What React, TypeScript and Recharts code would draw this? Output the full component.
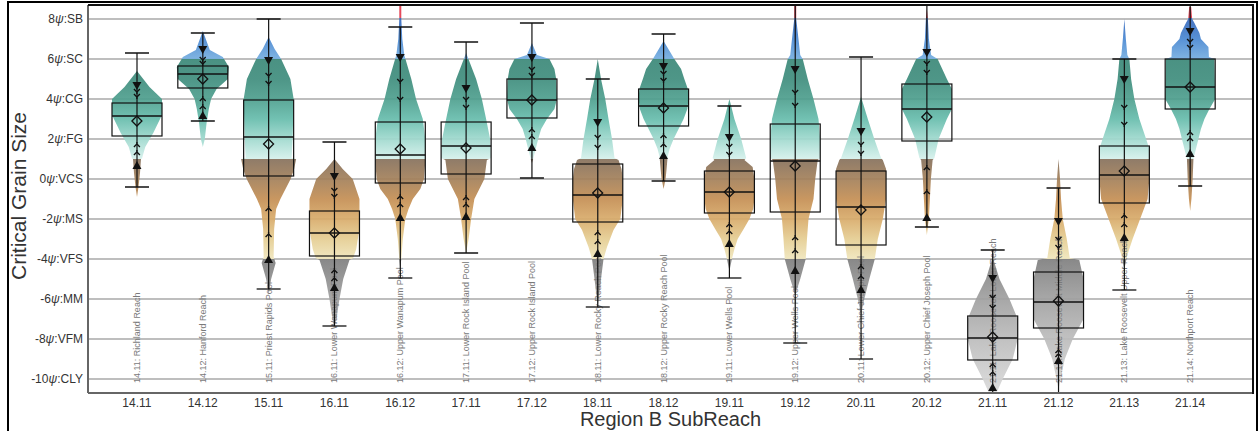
import React from "react";
import { ComposedChart, Bar, Scatter, XAxis, YAxis, CartesianGrid } from "recharts";

const codes = ["14.11", "14.12", "15.11", "16.11", "16.12", "17.11", "17.12", "18.11", "18.12", "19.11", "19.12", "20.11", "20.12", "21.11", "21.12", "21.13", "21.14"];
const reachNames = [
  "Richland Reach", "Hanford Reach", "Priest Rapids Pool", "Lower Wanapum Pool", "Upper Wanapum Pool",
  "Lower Rock Island Pool", "Upper Rock Island Pool", "Lower Rocky Reach Pool", "Upper Rocky Reach Pool",
  "Lower Wells Pool", "Upper Wells Pool", "Lower Chief Joseph Pool", "Upper Chief Joseph Pool",
  "Lake Roosevelt Lower Reach", "Lake Roosevelt Middle Reach", "Lake Roosevelt Upper Reach", "Northport Reach",
];

// box plot stats (phi units)
const q3s = [3.8, 5.65, 3.95, -1.6, 2.85, 2.85, 5.0, 0.75, 4.5, 0.4, 2.75, 0.4, 4.75, -6.85, -4.65, 1.65, 6.0];
const medians = [3.15, 5.25, 2.1, -2.7, 1.2, 1.65, 3.95, -0.8, 3.65, -0.65, 0.9, -1.4, 3.5, -7.95, -6.15, 0.2, 4.6];
const q1s = [2.15, 4.55, 0.15, -3.85, -0.2, 0.25, 3.05, -2.15, 2.65, -1.7, -1.65, -3.3, 1.9, -9.05, -7.45, -1.2, 3.5];
const whiskerHigh = [6.3, 7.3, 8.0, 1.85, 7.6, 6.85, 7.8, 5.0, 7.25, 3.65, 9.2, 6.1, 9.2, -3.55, -0.45, 6.0, 9.2];
const whiskerLow = [-0.4, 2.9, -5.5, -7.35, -4.95, -3.7, 0.05, -6.4, -0.1, -4.95, -8.2, -9.0, -2.4, -11, -11, -5.55, -0.35];
const means = [2.9, 5.0, 1.75, -2.7, 1.5, 1.55, 3.95, -0.7, 3.55, -0.65, 0.65, -1.55, 3.1, -7.9, -6.1, 0.4, 4.6];

// percentile markers
const upperTriangle = [4.65, 6.45, 5.9, 0.1, 6.05, 4.5, 6.05, 2.8, 5.6, 2.05, 5.45, 2.35, 6.3, -5.0, -2.15, 4.95, 7.35];
const upperTickA = [4.4, 6.0, 5.2, -0.55, 4.9, 4.0, 5.5, 2.1, 5.3, 1.65, 4.35, 1.75, 5.8, -5.9, -3.0, 3.6, 6.9];
const upperTickB = [4.15, 5.8, 4.8, -0.85, 4.0, 3.6, 5.2, 1.6, 4.95, 1.25, 3.7, 1.3, 5.35, -6.4, -3.4, 2.75, 6.6];
const lowerTickA = [1.7, 4.0, -1.5, -4.6, -0.9, -0.95, 2.45, -2.7, 2.15, -2.3, -2.95, -4.4, 0.55, -9.3, -8.6, -1.85, 2.3];
const lowerTickB = [1.3, 3.6, -2.8, -5.0, -1.3, -1.3, 2.1, -3.15, 1.7, -2.65, -3.6, -4.9, -0.65, -9.7, -8.8, -2.3, 2.0];
const lowerTriangle = [0.7, 3.2, -4.0, -5.4, -1.9, -1.85, 1.6, -3.7, 1.2, -3.2, -4.55, -5.5, -1.9, -10.4, -9.05, -2.9, 1.3];

// violin outlines: [phi, relative half width]
const violins: [number, number][][] = [
  [[5.4, 0], [4.6, 0.5], [4.0, 1.0], [3.2, 1.0], [2.3, 0.65], [1.6, 0.33], [1.02, 0.2], [1.0, 0.16], [0.3, 0.12], [-0.4, 0.06], [-0.9, 0]],
  [[7.4, 0], [6.45, 0.28], [6.1, 0.8], [5.6, 1.04], [5.0, 1.0], [4.5, 0.55], [4.0, 0.33], [3.5, 0.24], [2.8, 0.15], [2.0, 0.08], [1.6, 0]],
  [[7.1, 0], [6.5, 0.24], [6.0, 0.5], [5.0, 0.87], [4.0, 1.0], [2.0, 0.96], [1.05, 0.92], [1.0, 1.1], [0.5, 1.02], [0, 0.88], [-1, 0.47], [-1.5, 0.3], [-2.5, 0.22], [-3.9, 0.2], [-4.2, 0.28], [-5.0, 0.1], [-5.8, 0]],
  [[1.0, 0], [0.5, 0.33], [0, 0.73], [-1, 1.0], [-2.5, 1.0], [-3.5, 0.87], [-3.95, 0.75], [-4.05, 0.6], [-5, 0.35], [-6, 0.2], [-7, 0.08], [-7.4, 0]],
  [[8.7, 0.04], [8, 0.04], [7, 0.08], [6.2, 0.16], [5, 0.44], [4, 0.63], [3, 0.9], [2, 1.0], [0.9, 1.0], [0, 0.95], [-0.5, 0.8], [-1, 0.5], [-1.5, 0.33], [-2, 0.2], [-3, 0.1], [-4, 0.04], [-4.5, 0]],
  [[6.3, 0], [5, 0.4], [4, 0.63], [3, 0.8], [2, 0.96], [1.05, 1.0], [0.95, 0.83], [0, 0.73], [-0.5, 0.53], [-1, 0.33], [-2, 0.2], [-3, 0.1], [-3.7, 0]],
  [[6.8, 0], [6.2, 0.2], [6.0, 0.7], [5.5, 0.9], [5.0, 0.97], [4.0, 1.0], [3.5, 0.9], [3, 0.6], [2.5, 0.37], [2, 0.25], [1.5, 0.15], [1.0, 0.05], [0.8, 0]],
  [[6.0, 0], [5, 0.13], [4, 0.3], [3, 0.43], [2, 0.57], [1.05, 0.67], [0.95, 0.83], [0.5, 0.95], [0, 1.0], [-1, 1.0], [-2, 0.9], [-2.55, 0.63], [-3.4, 0.37], [-4, 0.23], [-5, 0.13], [-6, 0.04], [-6.3, 0]],
  [[6.9, 0], [6, 0.43], [5.5, 0.7], [5, 0.83], [4.5, 0.97], [4, 1.0], [3.5, 0.95], [3, 0.8], [2.5, 0.6], [2, 0.4], [1.5, 0.24], [1.1, 0.16], [0.5, 0.12], [0, 0.08], [-0.5, 0]],
  [[4.0, 0], [3, 0.2], [2, 0.47], [1.05, 0.67], [0.95, 0.6], [0.6, 0.93], [0, 1.0], [-1, 1.0], [-1.5, 0.95], [-2, 0.8], [-2.5, 0.57], [-3, 0.33], [-3.5, 0.2], [-4, 0.1], [-4.6, 0]],
  [[8.7, 0.04], [8, 0.04], [7, 0.13], [6.2, 0.2], [6, 0.3], [5, 0.5], [4, 0.73], [3, 0.93], [2, 1.0], [1.05, 1.0], [0.95, 0.9], [0, 0.8], [-1, 0.73], [-2, 0.53], [-3, 0.47], [-4, 0.42], [-5, 0.2], [-5.8, 0]],
  [[4.1, 0], [3, 0.27], [2, 0.53], [1.05, 0.8], [0.95, 0.87], [0.5, 1.0], [-1, 1.0], [-2, 0.87], [-3, 0.67], [-4, 0.55], [-5, 0.33], [-6, 0.13], [-6.8, 0]],
  [[8.5, 0], [8, 0.04], [7, 0.08], [6.2, 0.17], [6, 0.43], [5, 0.8], [4.5, 1.0], [3.5, 1.0], [3, 0.8], [2, 0.47], [1.05, 0.3], [0.95, 0.23], [0, 0.16], [-1, 0.12], [-2, 0.08], [-2.8, 0]],
  [[-3.9, 0], [-5, 0.27], [-6, 0.67], [-7, 1.0], [-8, 1.0], [-9, 0.8], [-10, 0.4], [-10.7, 0.15]],
  [[1.0, 0], [0, 0.06], [-1, 0.1], [-2, 0.17], [-3, 0.33], [-3.95, 0.45], [-4.05, 0.83], [-5, 1.0], [-7, 1.0], [-8, 0.57], [-9, 0.25], [-10, 0.08], [-10.5, 0]],
  [[8.0, 0], [7, 0.06], [6.2, 0.12], [6, 0.2], [5, 0.27], [4, 0.4], [3, 0.6], [2, 0.87], [1.5, 1.0], [0, 1.0], [-1, 0.93], [-2, 0.63], [-3, 0.33], [-3.8, 0.12], [-4.5, 0]],
  [[8.6, 0.04], [8.0, 0.08], [7.8, 0.17], [7.3, 0.37], [7.0, 0.43], [6.6, 0.73], [6.1, 0.75], [6.0, 0.97], [4, 1.0], [3.5, 0.77], [3, 0.57], [2.5, 0.43], [2, 0.33], [1.2, 0.17], [1, 0.13], [0, 0.1], [-1, 0.05], [-1.6, 0]],
];

const yTicks = [-10, -8, -6, -4, -2, 0, 2, 4, 6, 8];
const yTickClasses = ["CLY", "VFM", "MM", "VFS", "MS", "VCS", "FG", "CG", "SC", "SB"];

const Y_MIN = -10.7;
const Y_MAX = 8.7;

// grain-size colour ramp, by phi value
const colorRamp: [number, string][] = [
  [8.7, "#e23a4c"], [8.05, "#e23a4c"], [8.05, "#3366bb"], [7, "#4a88d2"], [6.02, "#74addf"],
  [6.02, "#3b8878"], [5, "#3f8d7d"], [4, "#4e9f8e"], [3, "#66bcac"], [2, "#9fd9ce"], [1.02, "#d4f0eb"],
  [1.02, "#85705c"], [0, "#a3805a"], [-1, "#c48e53"], [-2, "#d8ab6a"], [-3, "#e5cd92"], [-3.98, "#efe5bb"],
  [-3.98, "#7e7e7e"], [-6, "#a0a0a0"], [-8, "#bcbcbc"], [Y_MIN, "#dadada"],
];

const data = codes.map((code, i) => {
  const vals = violins[i].map((p) => p[0]);
  return {
    code,
    name: reachNames[i],
    range: [Math.max(Math.min(...vals), Y_MIN), Math.min(Math.max(...vals), Y_MAX)],
    q1: q1s[i],
    median: medians[i],
    q3: q3s[i],
    wlo: whiskerLow[i],
    whi: whiskerHigh[i],
    mean: means[i],
    upperTriangle: upperTriangle[i],
    upperTickA: upperTickA[i],
    upperTickB: upperTickB[i],
    lowerTickA: lowerTickA[i],
    lowerTickB: lowerTickB[i],
    lowerTriangle: lowerTriangle[i],
    profile: violins[i],
  };
});

function ViolinBox(props: any) {
  const { x, y, width, height, payload, index } = props;
  const [v0, v1] = payload.range;
  const py = (v: number) => y + ((v1 - v) / (v1 - v0)) * height;
  const cx = x + width / 2;
  const half = width / 2;
  const prof: [number, number][] = payload.profile;
  const right = prof.map(([v, w]) => `${cx + w * half},${py(v)}`);
  const left = prof.slice().reverse().map(([v, w]) => `${cx - w * half},${py(v)}`);
  const gid = `grain-${index}`;
  const span = Y_MAX - Y_MIN;
  const capHalf = 12;
  const labelY = py(-10.2);
  return (
    <g>
      <defs>
        <linearGradient id={gid} gradientUnits="userSpaceOnUse" x1={0} x2={0} y1={py(Y_MAX)} y2={py(Y_MIN)}>
          {colorRamp.map(([v, c], k) => (
            <stop key={k} offset={(Y_MAX - v) / span} stopColor={c} />
          ))}
        </linearGradient>
      </defs>
      <polygon points={[...right, ...left].join(" ")} fill={`url(#${gid})`} fillOpacity={0.92} />
      <text
        x={cx}
        y={labelY}
        transform={`rotate(-90, ${cx}, ${labelY})`}
        dominantBaseline="central"
        fontSize={9}
        fill="#7a7a7a"
      >
        {`${payload.code}: ${payload.name}`}
      </text>
      <line x1={cx} x2={cx} y1={py(payload.whi)} y2={py(payload.wlo)} stroke="#111" strokeWidth={1.2} />
      <line x1={cx - capHalf} x2={cx + capHalf} y1={py(payload.whi)} y2={py(payload.whi)} stroke="#111" strokeWidth={1.3} />
      <line x1={cx - capHalf} x2={cx + capHalf} y1={py(payload.wlo)} y2={py(payload.wlo)} stroke="#111" strokeWidth={1.3} />
      <rect
        x={cx - half}
        y={py(payload.q3)}
        width={width}
        height={py(payload.q1) - py(payload.q3)}
        fill="none"
        stroke="#111"
        strokeWidth={1.2}
      />
      <line x1={cx - half} x2={cx + half} y1={py(payload.median)} y2={py(payload.median)} stroke="#111" strokeWidth={1.3} />
    </g>
  );
}

const Diamond = (p: any) => (
  <path d={`M${p.cx},${p.cy - 5}L${p.cx + 5},${p.cy}L${p.cx},${p.cy + 5}L${p.cx - 5},${p.cy}Z`} fill="none" stroke="#111" strokeWidth={1.3} />
);
const TriDown = (p: any) => (
  <path d={`M${p.cx - 4.5},${p.cy - 4}L${p.cx + 4.5},${p.cy - 4}L${p.cx},${p.cy + 4}Z`} fill="#111" />
);
const TriUp = (p: any) => (
  <path d={`M${p.cx - 4.5},${p.cy + 4}L${p.cx + 4.5},${p.cy + 4}L${p.cx},${p.cy - 4}Z`} fill="#111" />
);
const TickDown = (p: any) => (
  <path d={`M${p.cx - 3},${p.cy - 2}L${p.cx},${p.cy + 1}L${p.cx + 3},${p.cy - 2}M${p.cx},${p.cy + 1}L${p.cx},${p.cy + 3}`} fill="none" stroke="#111" strokeWidth={1.3} />
);
const TickUp = (p: any) => (
  <path d={`M${p.cx - 3},${p.cy + 2}L${p.cx},${p.cy - 1}L${p.cx + 3},${p.cy + 2}M${p.cx},${p.cy - 1}L${p.cx},${p.cy - 3}`} fill="none" stroke="#111" strokeWidth={1.3} />
);

function YTick(props: any) {
  const { x, y, payload } = props;
  const cls = yTickClasses[yTicks.indexOf(payload.value)];
  return (
    <text x={x} y={y} dy={4} textAnchor="end" fontSize={12} fill="#333">
      {payload.value}
      <tspan fontStyle="italic">ψ</tspan>
      {`:${cls}`}
    </text>
  );
}

function YTitle(props: any) {
  const vb = props.viewBox || { x: 8, y: 5, width: 80, height: 388 };
  const x = vb.x + 18;
  const y = vb.y + vb.height / 2 - 3;
  return (
    <text x={x} y={y} transform={`rotate(-90, ${x}, ${y})`} textAnchor="middle" fontSize={21} fill="#333">
      Critical Grain Size
    </text>
  );
}

export default function App() {
  return (
    <div style={{ position: "absolute", left: 0, top: 0, width: 1259, height: 431, background: "#fff", fontFamily: "'Liberation Sans', Arial, sans-serif" }}>
      <ComposedChart width={1259} height={431} data={data} margin={{ top: 5, right: 6, bottom: 0, left: 8 }}>
        <CartesianGrid vertical={false} stroke="#a8a8a8" strokeWidth={1.4} />
        <XAxis
          dataKey="code"
          type="category"
          padding={{ left: 16, right: 30 }}
          height={38}
          interval={0}
          tickLine={false}
          tickSize={0}
          tickMargin={5}
          axisLine={{ stroke: "#666", strokeWidth: 2 }}
          tick={{ fontSize: 12, fill: "#333" }}
          label={{ value: "Region B SubReach", position: "insideBottom", offset: 5, fontSize: 20, fill: "#333" }}
        />
        <YAxis
          type="number"
          domain={[Y_MIN, Y_MAX]}
          ticks={yTicks}
          interval={0}
          allowDataOverflow
          width={80}
          tickLine={false}
          tickSize={0}
          tickMargin={5}
          axisLine={{ stroke: "#666", strokeWidth: 2 }}
          tick={<YTick />}
          label={<YTitle />}
        />
        <Bar dataKey="range" barSize={50} shape={<ViolinBox />} isAnimationActive={false} />
        <Scatter dataKey="mean" shape={<Diamond />} isAnimationActive={false} />
        <Scatter dataKey="upperTriangle" shape={<TriDown />} isAnimationActive={false} />
        <Scatter dataKey="upperTickA" shape={<TickDown />} isAnimationActive={false} />
        <Scatter dataKey="upperTickB" shape={<TickDown />} isAnimationActive={false} />
        <Scatter dataKey="lowerTickA" shape={<TickUp />} isAnimationActive={false} />
        <Scatter dataKey="lowerTickB" shape={<TickUp />} isAnimationActive={false} />
        <Scatter dataKey="lowerTriangle" shape={<TriUp />} isAnimationActive={false} />
      </ComposedChart>
      <div style={{ position: "absolute", left: 88, top: 4, width: 1166, height: 0, borderTop: "2px solid #111" }} />
      <div style={{ position: "absolute", left: 1252, top: 4, width: 0, height: 390, borderLeft: "2px solid #111" }} />
      <div style={{ position: "absolute", left: 7, top: 1, width: 1251, height: 430, boxSizing: "border-box", borderTop: "2px solid #000", borderLeft: "2px solid #000", borderRight: "2px solid #000" }} />
    </div>
  );
}
